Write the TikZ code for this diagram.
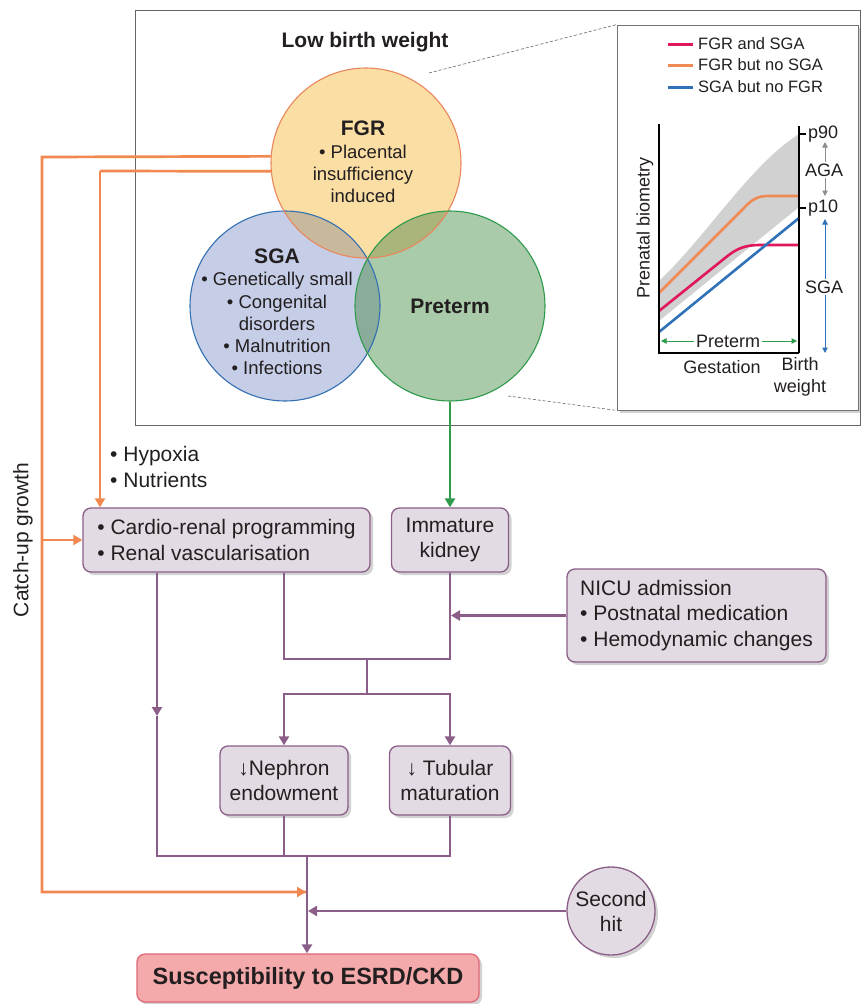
\documentclass[tikz,border=0pt]{standalone}
\usepackage{fontspec}
\setmainfont{Liberation Sans}
\usetikzlibrary{arrows.meta,shadows}
\definecolor{purp}{HTML}{8A5E88}
\definecolor{boxfill}{HTML}{E3DBE3}
\definecolor{oran}{HTML}{F08850}
\definecolor{grn}{HTML}{2E9A4A}
\definecolor{fgrfill}{HTML}{FBDEA4}
\definecolor{sgafill}{HTML}{C6CEE7}
\definecolor{prefill}{HTML}{AACBAA}
\definecolor{fsfill}{HTML}{C9B99C}
\definecolor{fpfill}{HTML}{AAB57B}
\definecolor{spfill}{HTML}{8AAC9B}
\definecolor{fgrline}{HTML}{E9865C}
\definecolor{sgaline}{HTML}{3270B2}
\definecolor{preline}{HTML}{2F9A4C}
\definecolor{legred}{HTML}{E0185A}
\definecolor{legorange}{HTML}{F08A55}
\definecolor{legblue}{HTML}{2F72B8}
\definecolor{suscfill}{HTML}{F4A9AB}
\definecolor{suscline}{HTML}{E06878}
\definecolor{txt}{HTML}{231F20}
\newcommand\myfs[2]{\fontsize{#1}{#2}\selectfont}
\begin{document}
\begin{tikzpicture}[x=1pt,y=-1pt,
  every node/.style={text=txt},
  pbox/.style={draw=purp, line width=1.3pt, fill=boxfill, rounded corners=8pt,
    drop shadow={shadow xshift=3pt,shadow yshift=-3pt,opacity=0.25,fill=black!70},
    inner sep=0pt, font=\myfs{21}{25.5}},
  pline/.style={draw=purp, line width=2.7pt},
  parr/.style={pline, -{Triangle[width=10pt,length=9pt]}},
  oline/.style={draw=oran, line width=2.7pt},
  oarr/.style={oline, -{Triangle[width=10pt,length=9pt]}},
  vtext/.style={align=center, inner sep=0pt, font=\myfs{18.5}{22.3}},
  itext/.style={inner sep=0pt, font=\myfs{16.5}{21.5}},
  ctext/.style={inner sep=0pt, font=\myfs{18}{21.5}},
  smalltip/.style={{Triangle[width=5.5pt,length=5.5pt]}-{Triangle[width=5.5pt,length=5.5pt]}}
]
\useasboundingbox (0,0) rectangle (861,1004);

% outer frame
\node[draw=black!60, line width=0.9pt, minimum width=725pt, minimum height=415pt, inner sep=0pt] (frame) at (497.5,217.5) {};
\node[font=\myfs{21}{25}\bfseries, inner sep=0pt] (lbw) at (365,42) {Low birth weight};

% Venn fills
\fill[sgafill] (285,306) circle[radius=95];
\fill[fgrfill] (366,163) circle[radius=95];
\fill[prefill] (450,306) circle[radius=95];
\begin{scope}\clip (366,163) circle[radius=95]; \fill[fsfill] (285,306) circle[radius=95]; \end{scope}
\begin{scope}\clip (366,163) circle[radius=95]; \fill[fpfill] (450,306) circle[radius=95]; \end{scope}
\begin{scope}\clip (285,306) circle[radius=95]; \fill[spfill] (450,306) circle[radius=95]; \end{scope}
\node[circle, draw=sgaline, line width=1.1pt, minimum size=190pt, inner sep=0pt] (SGA) at (285,306) {};
\node[circle, draw=fgrline, line width=1.1pt, minimum size=190pt, inner sep=0pt] (FGR) at (366,163) {};
\node[circle, draw=preline, line width=1.1pt, minimum size=190pt, inner sep=0pt] (PRE) at (450,306) {};

\node[vtext] (FGRt) at (363,162) {{\myfs{21}{22.3}\bfseries FGR}\\• Placental\\insufficiency\\induced};
\node[vtext] (SGAt) at (277,312) {{\myfs{21}{22.3}\bfseries SGA}\\• Genetically small\\• Congenital\\disorders\\• Malnutrition\\• Infections};
\node[vtext, font=\myfs{21}{22.5}\bfseries] (PREt) at (450,306) {Preterm};

% inset
\node[draw=black!55, line width=0.8pt, fill=white, minimum width=241pt, minimum height=385pt, inner sep=0pt,
  drop shadow={shadow xshift=3pt,shadow yshift=-3pt,opacity=0.25,fill=black!70}] (inset) at (737.5,217.5) {};
\coordinate (d1) at (429,73);
\coordinate (d2) at (508,396);
\draw[black!60, dash pattern=on 3pt off 2pt, line width=0.6pt] (d1) -- (inset.north west);
\draw[black!60, dash pattern=on 3pt off 2pt, line width=0.6pt] (d2) -- (inset.south west);

% legend
\coordinate (l1a) at (668,44); \coordinate (l1b) at (693,44);
\coordinate (l2a) at (668,65); \coordinate (l2b) at (693,65);
\coordinate (l3a) at (668,87); \coordinate (l3b) at (693,87);
\draw[legred, line width=3pt] (l1a) -- (l1b);
\draw[legorange, line width=3pt] (l2a) -- (l2b);
\draw[legblue, line width=3pt] (l3a) -- (l3b);
\node[itext, anchor=west] (leg1) at (698,44) {FGR and SGA};
\node[itext, anchor=west] (leg2) at (698,65) {FGR but no SGA};
\node[itext, anchor=west] (leg3) at (698,87) {SGA but no FGR};

% chart
\fill[black!18] (659,281) .. controls (705,238) and (750,165) .. (799,134) -- (799,207) -- (659,321) -- cycle;
\draw[legorange, line width=2.6pt] (659,293) -- (743,209) .. controls (752,199) and (758,196) .. (768,196) -- (799,196);
\draw[legred, line width=2.6pt] (659,311) -- (725,258) .. controls (736,249) and (744,245) .. (760,245) -- (799,245);
\draw[legblue, line width=2.6pt] (659,332) -- (799,218);
\coordinate (ax0) at (659,353);
\coordinate (axt) at (659,124);
\coordinate (axr) at (799,353);
\coordinate (axrt) at (799,126);
\draw[black, line width=1.4pt] (axt) -- (ax0) -- (axr);
\draw[black, line width=2.6pt] (axrt) -- (axr);
\draw[black, line width=1.4pt] (799,134) -- (806,134);
\draw[black, line width=1.4pt] (799,208) -- (806,208);
\node[ctext, anchor=west] (p90) at (808,134) {p90};
\node[ctext, anchor=west] (p10) at (808,208) {p10};
\coordinate (aga1) at (825,142); \coordinate (aga2) at (825,196);
\draw[black!45, line width=1pt, smalltip] (aga1) -- (aga2);
\node[ctext, fill=white, inner sep=1.5pt] (aga) at (824,170) {AGA};
\coordinate (sga1) at (825,219); \coordinate (sga2) at (825,353);
\draw[legblue, line width=1pt, smalltip] (sga1) -- (sga2);
\node[ctext, fill=white, inner sep=1.5pt] (sgal) at (824,287) {SGA};
\coordinate (pt1) at (661,341); \coordinate (pt2) at (797,341);
\draw[grn, line width=1pt, smalltip] (pt1) -- (pt2);
\node[ctext, fill=white, inner sep=2pt] (ptl) at (728,341) {Preterm};
\node[ctext] (gest) at (722,367) {Gestation};
\node[ctext, align=center] (bw) at (800,377) {Birth\\weight};
\node[ctext, rotate=90] (pbio) at (645,228) {Prenatal biometry};

% boxes
\node[pbox, minimum width=287pt, minimum height=64pt, align=left] (box1) at (226.5,540) {• Cardio-renal programming\\• Renal vascularisation};
\node[pbox, minimum width=117pt, minimum height=64pt, align=center] (box2) at (450,540) {Immature\\kidney};
\node[pbox, minimum width=259pt, minimum height=93pt, align=left] (nicu) at (696.5,615.5) {NICU admission\\• Postnatal medication\\• Hemodynamic changes};
\node[pbox, minimum width=128pt, minimum height=69pt, align=center] (neph) at (284,780.5) {↓Nephron\\endowment};
\node[pbox, minimum width=121pt, minimum height=69pt, align=center] (tub) at (450,780.5) {↓ Tubular\\maturation};
\node[circle, draw=purp, line width=1.3pt, fill=boxfill, minimum size=88pt, inner sep=0pt, align=center,
  drop shadow={shadow xshift=3pt,shadow yshift=-3pt,opacity=0.25,fill=black!70},
  font=\myfs{21}{25}] (hit) at (611,911) {Second\\hit};
\node[draw=suscline, line width=1.3pt, fill=suscfill, rounded corners=8pt, minimum width=342pt, minimum height=48pt,
  drop shadow={shadow xshift=3pt,shadow yshift=-3pt,opacity=0.25,fill=black!70},
  font=\myfs{23.5}{26}\bfseries, inner sep=0pt] (susc) at (308,978) {Susceptibility to ESRD/CKD};

\node[inner sep=0pt, align=left, anchor=west, font=\myfs{21}{26}] (hyp) at (110,467) {• Hypoxia\\• Nutrients};
\node[inner sep=0pt, rotate=90, font=\myfs{21}{25}] (catch) at (23,540) {Catch-up growth};

% junction coordinates
\coordinate (o1) at (42,157);
\coordinate (o2) at (42,892);
\coordinate (ob) at (42,540);
\coordinate (i1) at (100,171);
\coordinate (m1) at (157,716);
\coordinate (m2) at (157,856);
\coordinate (b1) at (450,856);
\coordinate (s1) at (367,659);
\coordinate (s2) at (367,694);
\coordinate (jn) at (307,856);
\coordinate (jo) at (307,892);
\coordinate (jh) at (308,911);
\coordinate (jnicu) at (451,615.5);

% orange connectors
\draw[oline] (FGR.176) -- (o1) -- (o2) -- ([xshift=-1pt]jo);
\draw[oarr] (o2) -- ([xshift=-1pt]jo);
\draw[oarr] (ob) -- (box1.west);
\draw[oline] (FGR.185) -- (i1);
\draw[oarr] (i1) -- (100,0 |- box1.north);

% green
\draw[grn, line width=2.7pt, -{Triangle[width=10pt,length=9pt]}] (PRE.south) -- (box2.north);

% purple network
\draw[parr] (157,0 |- box1.south) -- (m1);
\draw[pline] (m1) -- (m2) -- (b1) -- (tub.south);
\draw[pline] (neph.south) -- (284,0 |- m2);
\draw[pline] (284,0 |- box1.south) |- (s1) -| (box2.south);
\draw[pline] (s1) -- (s2);
\draw[parr] (s2) -| (neph.north);
\draw[parr] (s2) -| (tub.north);
\draw[parr] (nicu.west |- jnicu) -- (jnicu);
\draw[parr] (jn) -- (susc.north -| jn);
\draw[parr] (hit.west) -- (jh);
\end{tikzpicture}
\end{document}
